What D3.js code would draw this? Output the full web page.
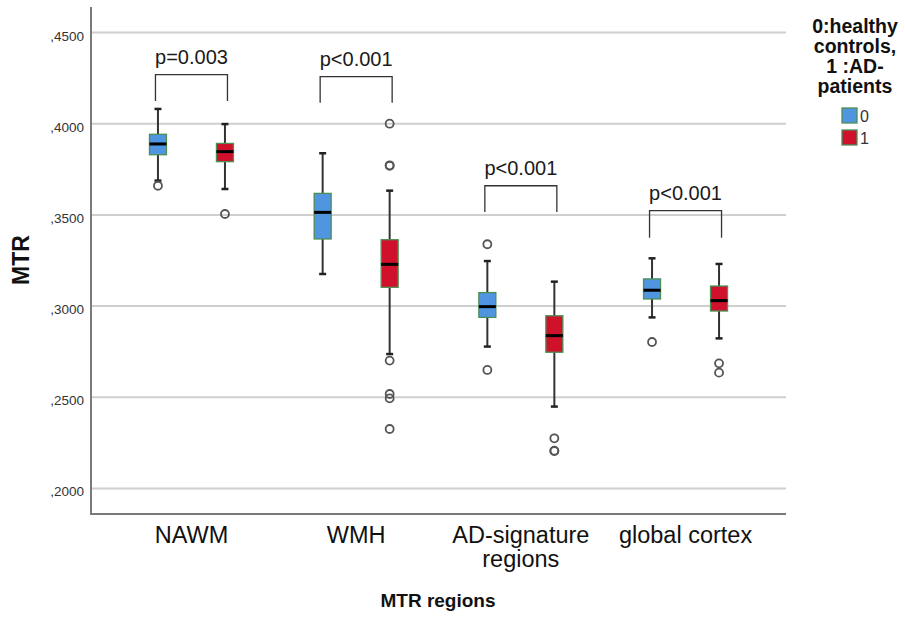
<!DOCTYPE html>
<html>
<head>
<meta charset="utf-8">
<script src="https://cdn.jsdelivr.net/npm/d3@7"></script>
<style>
  html, body { margin: 0; padding: 0; background: #fff; }
  svg { display: block; font-family: "Liberation Sans", Arial, sans-serif; }
</style>
</head>
<body>
<svg id="chart" width="905" height="619"></svg>
<script>
// ---- Data ----
const categories = ["NAWM", "WMH", "AD-signature regions", "global cortex"];
const categoryLines = [["NAWM"], ["WMH"], ["AD-signature", "regions"], ["global cortex"]];
const groups = ["0", "1"];
const yTicks = [0.20, 0.25, 0.30, 0.35, 0.40, 0.45];
const yTickLabels = [",2000", ",2500", ",3000", ",3500", ",4000", ",4500"];

// group 0: healthy controls
const healthyLow    = [0.3688, 0.3176, 0.2778, 0.2938];
const healthyQ1     = [0.3830, 0.3368, 0.2938, 0.3039];
const healthyMedian = [0.3889, 0.3514, 0.2997, 0.3087];
const healthyQ3     = [0.3942, 0.3618, 0.3074, 0.3149];
const healthyHigh   = [0.4081, 0.3838, 0.3247, 0.3262];
const healthyOutliers = [[0.3660], [], [0.3339, 0.2650], [0.2803]];

// group 1: AD patients
const patientLow    = [0.3642, 0.2737, 0.2449, 0.2823];
const patientQ1     = [0.3792, 0.3103, 0.2747, 0.2973];
const patientMedian = [0.3847, 0.3229, 0.2838, 0.3030];
const patientQ3     = [0.3892, 0.3364, 0.2947, 0.3110];
const patientHigh   = [0.3998, 0.3633, 0.3134, 0.3231];
const patientOutliers = [[0.3505], [0.4000, 0.3772, 0.3769, 0.2701, 0.2518, 0.2494, 0.2326],
                         [0.2275, 0.2207, 0.2205], [0.2686, 0.2635]];

// significance annotations
const pLabels = ["p=0.003", "p<0.001", "p<0.001", "p<0.001"];
const bracketTop = [0.4269, 0.4258, 0.3660, 0.3523];
const bracketBottom = [0.4124, 0.4115, 0.3516, 0.3375];

const legendTitle = ["0:healthy", "controls,", "1 :AD-", "patients"];
const colors = { "0": "#4f95df", "1": "#d0112b" };
const boxStroke = "#4d8f55";

// ---- Layout ----
const svg = d3.select("#chart");
const plotLeft = 91, plotRight = 786, plotTop = 7, plotBottom = 514;

const x = d3.scalePoint().domain(categories).range([plotLeft, plotRight]).padding(0.61);
const xg = d3.scalePoint().domain(groups).range([-33.5, 33.5]);
const y = d3.scaleLinear().domain([0.186, 0.464]).range([plotBottom, plotTop]);

// gridlines
svg.append("g").selectAll("line").data(yTicks).join("line")
  .attr("x1", plotLeft).attr("x2", plotRight)
  .attr("y1", d => y(d)).attr("y2", d => y(d))
  .attr("stroke", "#cfcfcf").attr("stroke-width", 2);

// y tick labels
svg.append("g").selectAll("text").data(yTicks).join("text")
  .attr("x", 84).attr("y", d => y(d) + 8)
  .attr("text-anchor", "end").attr("font-size", 13.5).attr("fill", "#333")
  .text((d, i) => yTickLabels[i]);

// axes lines
svg.append("line").attr("x1", plotLeft).attr("x2", plotLeft).attr("y1", plotTop).attr("y2", plotBottom)
  .attr("stroke", "#7a7a7a").attr("stroke-width", 2);
svg.append("line").attr("x1", plotLeft - 1).attr("x2", plotRight).attr("y1", plotBottom).attr("y2", plotBottom)
  .attr("stroke", "#7a7a7a").attr("stroke-width", 2);

// build box records
const boxes = [];
categories.forEach((c, i) => {
  boxes.push({ cat: c, g: "0", low: healthyLow[i], q1: healthyQ1[i], med: healthyMedian[i], q3: healthyQ3[i], high: healthyHigh[i], out: healthyOutliers[i] });
  boxes.push({ cat: c, g: "1", low: patientLow[i], q1: patientQ1[i], med: patientMedian[i], q3: patientQ3[i], high: patientHigh[i], out: patientOutliers[i] });
});

const bw = 17, cap = 7;
const bg = svg.append("g").selectAll("g").data(boxes).join("g")
  .attr("transform", d => `translate(${x(d.cat) + xg(d.g)},0)`);

bg.append("line").attr("x1", 0).attr("x2", 0)
  .attr("y1", d => y(d.high)).attr("y2", d => y(d.low))
  .attr("stroke", "#333").attr("stroke-width", 2);
bg.append("line").attr("x1", -cap / 2).attr("x2", cap / 2)
  .attr("y1", d => y(d.high)).attr("y2", d => y(d.high))
  .attr("stroke", "#222").attr("stroke-width", 2.5);
bg.append("line").attr("x1", -cap / 2).attr("x2", cap / 2)
  .attr("y1", d => y(d.low)).attr("y2", d => y(d.low))
  .attr("stroke", "#222").attr("stroke-width", 2.5);
bg.append("rect").attr("x", -bw / 2).attr("width", bw)
  .attr("y", d => y(d.q3)).attr("height", d => y(d.q1) - y(d.q3))
  .attr("fill", d => colors[d.g]).attr("stroke", boxStroke).attr("stroke-width", 1.3);
bg.append("line").attr("x1", -bw / 2).attr("x2", bw / 2)
  .attr("y1", d => y(d.med)).attr("y2", d => y(d.med))
  .attr("stroke", "#000").attr("stroke-width", 3);
bg.selectAll("circle").data(d => d.out).join("circle")
  .attr("cx", 0).attr("cy", d => y(d)).attr("r", 4)
  .attr("fill", "none").attr("stroke", "#555").attr("stroke-width", 1.8);

// significance brackets
const ann = svg.append("g").selectAll("g").data(categories).join("g");
ann.append("path")
  .attr("d", (c, i) => {
    const x0 = x(c) - 36, x1 = x(c) + 36;
    return `M${x0},${y(bracketBottom[i])}V${y(bracketTop[i])}H${x1}V${y(bracketBottom[i])}`;
  })
  .attr("fill", "none").attr("stroke", "#333").attr("stroke-width", 1.3);
ann.append("text")
  .attr("x", c => x(c)).attr("y", (c, i) => y(bracketTop[i]) - 11)
  .attr("text-anchor", "middle").attr("font-size", 20).attr("fill", "#1a1a1a")
  .text((c, i) => pLabels[i]);

// x tick labels
svg.append("g").selectAll("text").data(categories).join("text")
  .attr("x", c => x(c)).attr("y", 543)
  .attr("text-anchor", "middle").attr("font-size", 23.5).attr("fill", "#111")
  .selectAll("tspan").data((c, i) => categoryLines[i]).join("tspan")
  .attr("x", function () { return d3.select(this.parentNode).attr("x"); })
  .attr("dy", (d, j) => j === 0 ? 0 : 24)
  .text(d => d);

// axis titles
svg.append("text").attr("transform", "translate(29,260) rotate(-90)")
  .attr("text-anchor", "middle").attr("font-size", 23).attr("font-weight", "bold").attr("fill", "#111")
  .text("MTR");
svg.append("text").attr("x", 438).attr("y", 607)
  .attr("text-anchor", "middle").attr("font-size", 19).attr("font-weight", "bold").attr("fill", "#111")
  .text("MTR regions");

// legend
const lg = svg.append("g");
lg.selectAll("text.t").data(legendTitle).join("text").attr("class", "t")
  .attr("x", 855).attr("y", (d, i) => 33 + i * 20)
  .attr("text-anchor", "middle").attr("font-size", 19.5).attr("font-weight", "bold").attr("fill", "#111")
  .text(d => d);
const li = lg.selectAll("g.i").data(groups).join("g").attr("class", "i")
  .attr("transform", (d, i) => `translate(842,${108 + i * 22})`);
li.append("rect").attr("width", 15).attr("height", 15)
  .attr("fill", d => colors[d]).attr("stroke", boxStroke).attr("stroke-width", 1.3);
li.append("text").attr("x", 18).attr("y", 14).attr("font-size", 16).attr("fill", "#333").text(d => d);
</script>
</body>
</html>
